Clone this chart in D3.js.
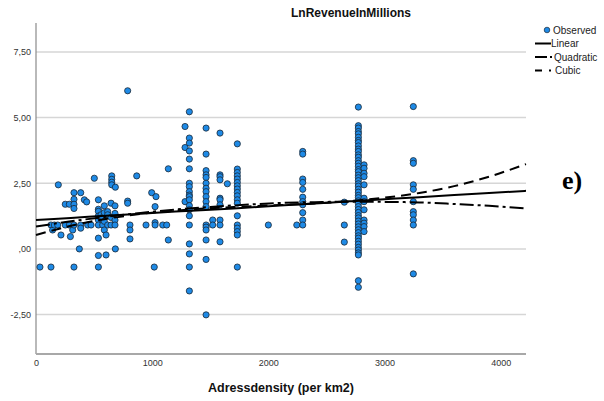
<!DOCTYPE html>
<html>
<head>
<meta charset="utf-8">
<script src="https://cdn.jsdelivr.net/npm/d3@7"></script>
<style>
  html, body { margin: 0; padding: 0; background: #fff; }
  svg { display: block; font-family: "Liberation Sans", Arial, sans-serif; }
</style>
</head>
<body>
<svg id="chart" width="604" height="401"></svg>
<script>
// Observed points, grouped by address density (x) → LnRevenueInMillions values (y)
const observedColumns = [
  [34, [-0.69]],
  [129, [0.91, -0.69]],
  [143, [0.72]],
  [158, [0.91]],
  [187, [0.91]],
  [192, [2.44]],
  [215, [0.53]],
  [252, [1.70, 0.91]],
  [287, [1.70, 0.91]],
  [296, [0.47]],
  [316, [0.72]],
  [327, [2.14, 1.89, 1.70, 1.54, 0.91, -0.69]],
  [373, [0.00]],
  [385, [2.14, 0.91, 0.79]],
  [416, [1.87]],
  [436, [1.79]],
  [445, [0.91]],
  [474, [0.91]],
  [502, [2.69]],
  [537, [1.87, 1.51, 1.43, 1.25, 1.10, 0.91, 0.41, -0.25, -0.69]],
  [560, [1.30, 1.15]],
  [574, [1.20, 0.91]],
  [588, [1.64, 1.38, 1.05, 0.72]],
  [603, [0.53, -0.23]],
  [617, [1.42, 1.30, 0.91]],
  [646, [1.74, 1.20, 0.91]],
  [652, [2.78, 2.65, 2.54, 2.44]],
  [680, [1.64, 1.35, 1.10, 0.91]],
  [683, [2.35, 0.00]],
  [789, [6.02, 1.82, 1.74]],
  [809, [0.91, 0.72, 0.38]],
  [867, [2.78]],
  [947, [0.91]],
  [996, [2.14]],
  [1018, [-0.69]],
  [1025, [1.61, 1.00, 0.91]],
  [1033, [1.99]],
  [1091, [0.91]],
  [1125, [0.91]],
  [1139, [3.05, 0.34]],
  [1283, [4.66, 3.86, 1.80]],
  [1320, [5.22, 4.22, 4.03, 3.73, 3.42, 3.05, 2.50, 2.37, 2.18, 2.05, 1.99, 1.87, 1.65, 1.49, 1.26, 0.91, 0.19, -0.19, -0.69, -1.60]],
  [1464, [4.60, 3.61, 2.98, 2.82, 2.72, 2.50, 2.31, 2.18, 1.99, 1.80, 1.61, 0.91, 0.83, 0.72, 0.34, -0.40, -2.51]],
  [1521, [1.10, 0.91]],
  [1584, [4.41, 2.82, 2.75, 2.63, 1.93, 1.87, 1.68, 1.10, 0.91, 0.27]],
  [1647, [2.48]],
  [1733, [4.00, 3.04, 2.91, 2.78, 2.66, 2.53, 2.40, 2.28, 2.15, 2.02, 1.87, 1.74, 1.26, 0.91, 0.79, 0.66, 0.53, -0.69]],
  [2000, [0.91]],
  [2245, [0.91]],
  [2296, [3.71, 3.61, 2.66, 2.53, 2.27, 1.97, 1.80, 1.68, 1.38, 1.10, 0.91]],
  [2654, [1.78, 0.91, 0.26]],
  [2775, [5.40, 4.69, 4.60, 4.47, 4.38, 4.25, 4.13, 4.05, 3.92, 3.80, 3.71, 3.58, 3.49, 3.36, 3.26, 3.15, 3.02, 2.94, 2.81, 2.71, 2.60, 2.48, 2.39, 2.27, 2.16, 2.04, 1.95, 1.83, 1.73, 1.61, 1.50, 1.39, 1.27, 1.18, 1.06, 0.95, 0.84, 0.73, 0.62, 0.50, 0.41, 0.29, 0.18, 0.06, -0.04, -0.15, -0.23, -1.21, -1.46]],
  [2824, [3.20, 3.07, 2.88, 2.75, 2.44, 1.93, 1.80, 1.49, 1.10, 0.98, 0.85, 0.66]],
  [3248, [5.42, 3.36, 3.26, 2.44, 2.27, 1.80, 1.42, 1.30, 1.10, 0.91, -0.95]]
];

// Fitted curves at these densities
const fitX = [0, 300, 600, 900, 1200, 1500, 1800, 2100, 2400, 2700, 3000, 3300, 3600, 3900, 4218];
const linearFit = [1.10, 1.18, 1.26, 1.34, 1.42, 1.49, 1.57, 1.65, 1.73, 1.81, 1.89, 1.97, 2.05, 2.13, 2.21];
const quadraticFit = [0.85, 1.05, 1.22, 1.37, 1.50, 1.60, 1.68, 1.75, 1.78, 1.80, 1.79, 1.77, 1.71, 1.64, 1.54];
const cubicFit = [0.53, 0.88, 1.14, 1.33, 1.46, 1.55, 1.61, 1.67, 1.73, 1.82, 1.95, 2.13, 2.39, 2.75, 3.23];

const xTicks = [0, 1000, 2000, 3000, 4000];
const yTicks = [-2.5, 0, 2.5, 5, 7.5];
const yTickLabels = ['-2,50', ',00', '2,50', '5,00', '7,50'];

const legendItems = ['Observed', 'Linear', 'Quadratic', 'Cubic'];

const PLOT = { left: 36, right: 526, top: 23, bottom: 354 };

const svg = d3.select('#chart');

const x = d3.scaleLinear().domain([0, 4218]).range([PLOT.left, PLOT.right]);
const y = d3.scaleLinear().domain([-4, 8.6]).range([PLOT.bottom, PLOT.top]);

// Gridlines
svg.append('g')
  .selectAll('line')
  .data(yTicks)
  .join('line')
  .attr('x1', PLOT.left)
  .attr('x2', PLOT.right)
  .attr('y1', d => y(d))
  .attr('y2', d => y(d))
  .attr('stroke', '#d6d6d6')
  .attr('stroke-width', 1.5);

// Y axis (labels only, plain line)
const yAxis = svg.append('g')
  .attr('transform', `translate(${PLOT.left},0)`)
  .call(d3.axisLeft(y).tickValues(yTicks).tickSize(0).tickPadding(5)
    .tickFormat((d, i) => yTickLabels[i]));
yAxis.select('.domain').remove();
yAxis.selectAll('text').attr('font-size', 9).attr('fill', '#333').attr('font-family', 'Liberation Sans, Arial, sans-serif');

svg.append('line')
  .attr('x1', PLOT.left).attr('x2', PLOT.left)
  .attr('y1', PLOT.top).attr('y2', PLOT.bottom)
  .attr('stroke', '#8a8a8a')
  .attr('stroke-width', 1.2);

// X axis
const xAxis = svg.append('g')
  .attr('transform', `translate(0,${PLOT.bottom})`)
  .call(d3.axisBottom(x).tickValues(xTicks).tickSize(0).tickPadding(6).tickFormat(d3.format('d')));
xAxis.select('.domain').remove();
xAxis.selectAll('text').attr('font-size', 9).attr('fill', '#333').attr('font-family', 'Liberation Sans, Arial, sans-serif');

svg.append('line')
  .attr('x1', PLOT.left).attr('x2', PLOT.right)
  .attr('y1', PLOT.bottom).attr('y2', PLOT.bottom)
  .attr('stroke', '#a8a8a8')
  .attr('stroke-width', 2);

// Observed points
const points = observedColumns.flatMap(([dx, ys]) => ys.map(v => ({ dx, v })));
svg.append('g')
  .selectAll('circle')
  .data(points)
  .join('circle')
  .attr('cx', d => x(d.dx))
  .attr('cy', d => y(d.v))
  .attr('r', 3.1)
  .attr('fill', '#1e8ae6')
  .attr('stroke', '#1b2836')
  .attr('stroke-width', 0.8);

// Fit lines
const fits = [
  { values: linearFit, dash: null },
  { values: quadraticFit, dash: '14,4,3,4' },
  { values: cubicFit, dash: '10,6' }
];
const line = d3.line()
  .x(d => x(d[0]))
  .y(d => y(d[1]))
  .curve(d3.curveMonotoneX);

svg.append('g')
  .selectAll('path')
  .data(fits)
  .join('path')
  .attr('d', f => line(fitX.map((fx, i) => [fx, f.values[i]])))
  .attr('fill', 'none')
  .attr('stroke', '#000')
  .attr('stroke-width', 2)
  .attr('stroke-dasharray', f => f.dash);

// Title
svg.append('text')
  .attr('x', 351)
  .attr('y', 17)
  .attr('text-anchor', 'middle')
  .attr('font-size', 12)
  .attr('font-weight', 'bold')
  .attr('fill', '#111')
  .text('LnRevenueInMillions');

// X axis title
svg.append('text')
  .attr('x', (PLOT.left + PLOT.right) / 2)
  .attr('y', 392)
  .attr('text-anchor', 'middle')
  .attr('font-size', 12.5)
  .attr('font-weight', 'bold')
  .attr('fill', '#111')
  .text('Adressdensity (per km2)');

// Legend
const legend = svg.append('g').attr('font-size', 10).attr('fill', '#222');
const legendY = [30, 43.5, 57, 70.5];

legend.append('circle')
  .attr('cx', 547).attr('cy', legendY[0]).attr('r', 2.8)
  .attr('fill', '#1e8ae6').attr('stroke', '#1b2836').attr('stroke-width', 0.7);

legend.append('line')
  .attr('x1', 535).attr('x2', 551)
  .attr('y1', legendY[1]).attr('y2', legendY[1])
  .attr('stroke', '#000').attr('stroke-width', 2);

legend.append('line')
  .attr('x1', 535).attr('x2', 553)
  .attr('y1', legendY[2]).attr('y2', legendY[2])
  .attr('stroke', '#000').attr('stroke-width', 2)
  .attr('stroke-dasharray', '12,3,2,10');

legend.append('line')
  .attr('x1', 535).attr('x2', 553)
  .attr('y1', legendY[3]).attr('y2', legendY[3])
  .attr('stroke', '#000').attr('stroke-width', 2)
  .attr('stroke-dasharray', '7,7,2,10');

legend.selectAll('text')
  .data(legendItems)
  .join('text')
  .attr('x', (d, i) => [553, 551, 554, 555][i])
  .attr('y', (d, i) => legendY[i])
  .attr('dy', '0.35em')
  .text(d => d);

// Panel label
svg.append('text')
  .attr('x', 562)
  .attr('y', 189)
  .attr('font-family', '"Liberation Serif", "Times New Roman", serif')
  .attr('font-size', 26)
  .attr('font-weight', 'bold')
  .attr('fill', '#000')
  .text('e)');
</script>
</body>
</html>
